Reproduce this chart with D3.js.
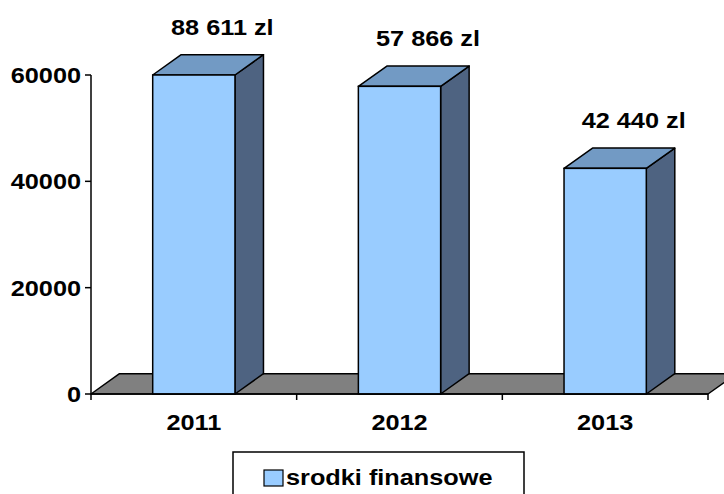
<!DOCTYPE html>
<html>
<head>
<meta charset="utf-8">
<script src="https://cdn.jsdelivr.net/npm/d3@7"></script>
<style>
  html, body { margin: 0; padding: 0; background: #fff; }
  svg { display: block; }
  text { font-family: "Liberation Sans", Arial, sans-serif; font-weight: bold; font-size: 22px; fill: #000; }
</style>
</head>
<body>
<svg id="chart" width="724" height="494"></svg>
<script>
// ---- data ----
const categories = ["2011", "2012", "2013"];
const values = [88611, 57866, 42440];
const valueLabels = ["88 611 zl", "57 866 zl", "42 440 zl"];
const yTicks = [0, 20000, 40000, 60000];
const seriesName = "srodki finansowe";

// ---- layout ----
const plotL = 91, plotR = 708, plotT = 75, plotB = 394;
const depthX = 28.5, depthY = -20.3;
const stretch = 1.15;
const colFront = "#99CCFF", colTop = "#729AC4", colSide = "#4E6381", colFloor = "#808080";

const svg = d3.select("#chart");

const x = d3.scaleBand().domain(categories).range([plotL, plotR]).paddingInner(0.6).paddingOuter(0.3);
const xBand = d3.scaleBand().domain(categories).range([plotL, plotR]);
const y = d3.scaleLinear().domain([0, 60000]).range([plotB, plotT]).clamp(true);

function label(g, tx, ty, txt, anchor) {
  return g.append("text")
    .attr("transform", `translate(${tx},${ty}) scale(${stretch},1)`)
    .attr("text-anchor", anchor || "middle")
    .text(txt);
}
const pts = arr => arr.map(p => p.join(",")).join(" ");

// floor
svg.append("polygon")
  .attr("points", pts([[plotL, plotB], [plotR, plotB], [plotR + depthX, plotB + depthY], [plotL + depthX, plotB + depthY]]))
  .attr("fill", colFloor).attr("stroke", "#000").attr("stroke-width", 1.5).attr("stroke-linejoin", "round");

// bars
const bars = svg.append("g");
categories.forEach((c, i) => {
  const x0 = x(c), x1 = x(c) + x.bandwidth();
  const yt = y(values[i]);
  const g = bars.append("g");
  g.append("polygon")
    .attr("points", pts([[x1, plotB], [x1, yt], [x1 + depthX, yt + depthY], [x1 + depthX, plotB + depthY]]))
    .attr("fill", colSide).attr("stroke", "#000").attr("stroke-width", 1.5).attr("stroke-linejoin", "round");
  g.append("polygon")
    .attr("points", pts([[x0, yt], [x1, yt], [x1 + depthX, yt + depthY], [x0 + depthX, yt + depthY]]))
    .attr("fill", colTop).attr("stroke", "#000").attr("stroke-width", 1.5).attr("stroke-linejoin", "round");
  g.append("rect")
    .attr("x", x0).attr("y", yt).attr("width", x1 - x0).attr("height", plotB - yt)
    .attr("fill", colFront).attr("stroke", "#000").attr("stroke-width", 1.5);
  label(svg, (x0 + x1) / 2 + depthX, yt + depthY - 20, valueLabels[i]);
});

// y axis
const yAxis = svg.append("g");
yAxis.append("line").attr("x1", plotL).attr("x2", plotL).attr("y1", plotT).attr("y2", plotB + 6)
  .attr("stroke", "#000").attr("stroke-width", 1.5);
yTicks.forEach(t => {
  yAxis.append("line").attr("x1", plotL - 6).attr("x2", plotL).attr("y1", y(t)).attr("y2", y(t))
    .attr("stroke", "#000").attr("stroke-width", 1.5);
  label(yAxis, plotL - 10, y(t) + 8, String(t), "end");
});

// x axis
const xAxis = svg.append("g");
xAxis.append("line").attr("x1", plotL).attr("x2", plotR).attr("y1", plotB).attr("y2", plotB)
  .attr("stroke", "#000").attr("stroke-width", 1.5);
categories.forEach(c => {
  const xr = xBand(c) + xBand.bandwidth();
  xAxis.append("line").attr("x1", xr).attr("x2", xr).attr("y1", plotB).attr("y2", plotB + 6)
    .attr("stroke", "#000").attr("stroke-width", 1.5);
  label(xAxis, xBand(c) + xBand.bandwidth() / 2, 430, c);
});

// legend
const lg = svg.append("g");
lg.append("rect").attr("x", 233).attr("y", 452).attr("width", 291).attr("height", 60)
  .attr("fill", "#fff").attr("stroke", "#000").attr("stroke-width", 1.5);
lg.append("rect").attr("x", 264).attr("y", 470).attr("width", 19).attr("height", 16)
  .attr("fill", colFront).attr("stroke", "#000").attr("stroke-width", 1.2);
label(lg, 286, 485, seriesName, "start");
</script>
</body>
</html>
